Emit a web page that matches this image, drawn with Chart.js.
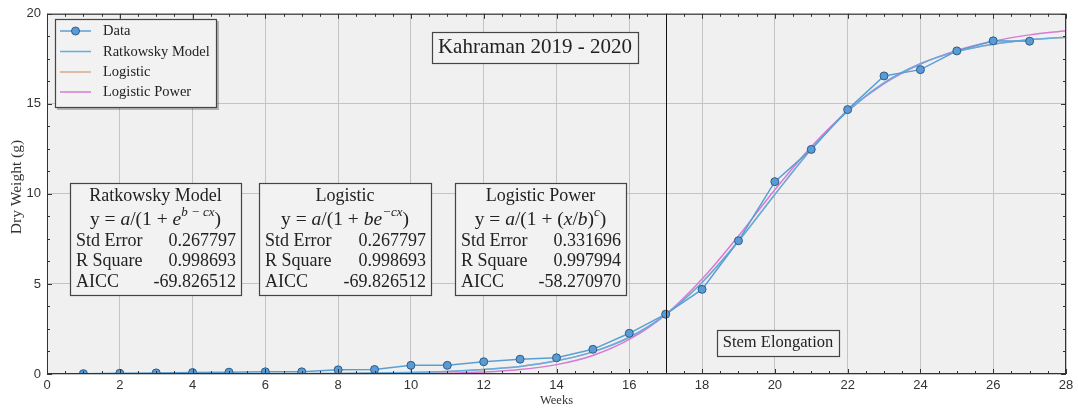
<!DOCTYPE html>
<html>
<head>
<meta charset="utf-8">
<script src="https://cdn.jsdelivr.net/npm/chart.js@4.4.1/dist/chart.umd.min.js"></script>
<style>
  body { margin: 0; background: #fff; }
  canvas { display: block; }
</style>
</head>
<body>
<canvas id="growthChart" width="1078" height="410"></canvas>
<script>
// measured dry weight per week
const weeks = [1, 2, 3, 4, 5, 6, 7, 8, 9, 10, 11, 12, 13, 14, 15, 16, 17, 18, 19, 20, 21, 22, 23, 24, 25, 26, 27];
const dryWeight = [0.02, 0.04, 0.06, 0.08, 0.1, 0.12, 0.12, 0.23, 0.25, 0.48, 0.48, 0.68, 0.82, 0.9, 1.37, 2.26, 3.32, 4.7, 7.4, 10.68, 12.47, 14.68, 16.55, 16.9, 17.94, 18.5, 18.48];

const curveWeeks = [0, 1, 2, 3, 4, 5, 6, 7, 8, 9, 10, 11, 12, 13, 14, 15, 16, 17, 18, 19, 20, 21, 22, 23, 24, 25, 26, 27, 28];
const ratkowsky = [0, 0, 0, 0, 0, 0.01, 0.01, 0.02, 0.03, 0.05, 0.08, 0.14, 0.25, 0.42, 0.73, 1.23, 2.04, 3.3, 5.08, 7.38, 9.97, 12.48, 14.59, 16.17, 17.23, 17.9, 18.31, 18.56, 18.7];
const logistic = [0, 0, 0, 0, 0, 0.01, 0.01, 0.02, 0.03, 0.05, 0.08, 0.14, 0.25, 0.42, 0.73, 1.23, 2.04, 3.3, 5.08, 7.38, 9.97, 12.48, 14.59, 16.17, 17.23, 17.9, 18.31, 18.56, 18.7];
const logisticPower = [0, 0, 0, 0, 0, 0, 0, 0, 0.003, 0.007, 0.016, 0.044, 0.11, 0.25, 0.52, 1.03, 1.92, 3.3, 5.27, 7.66, 10.23, 12.62, 14.6, 16.12, 17.21, 17.97, 18.48, 18.83, 19.06];

const xTicks = [0, 2, 4, 6, 8, 10, 12, 14, 16, 18, 20, 22, 24, 26, 28];
const yTicks = [0, 5, 10, 15, 20];
const stageWeek = 17;

const fitBoxes = [
  { title: 'Ratkowsky Model', stdErr: '0.267797', rsq: '0.998693', aicc: '-69.826512', x1: 70, x2: 241,
    formula: [['y = ', 'n'], ['a', 'i'], ['/(1 + ', 'n'], ['e', 'i'], ['b \u2212 cx', 's'], [')', 'n']] },
  { title: 'Logistic', stdErr: '0.267797', rsq: '0.998693', aicc: '-69.826512', x1: 259, x2: 431,
    formula: [['y = ', 'n'], ['a', 'i'], ['/(1 + ', 'n'], ['be', 'i'], ['\u2212cx', 's'], [')', 'n']] },
  { title: 'Logistic Power', stdErr: '0.331696', rsq: '0.997994', aicc: '-58.270970', x1: 455, x2: 626,
    formula: [['y = ', 'n'], ['a', 'i'], ['/(1 + (', 'n'], ['x', 'i'], ['/', 'n'], ['b', 'i'], [')', 'n'], ['c', 's'], [')', 'n']] }
];

const SERIF = '"Liberation Serif", "DejaVu Serif", serif';

function pts(xs, ys) {
  return xs.map((x, i) => ({ x: x, y: ys[i] }));
}

function boxRect(ctx, x, y, w, h) {
  ctx.fillStyle = '#f2f2f2';
  ctx.fillRect(x, y, w, h);
  ctx.strokeStyle = '#444';
  ctx.lineWidth = 1.2;
  ctx.strokeRect(x + 0.5, y + 0.5, w, h);
}

function drawRich(ctx, parts, cx, y, size) {
  const fontOf = (k) => k === 'i' ? 'italic ' + size + 'px ' + SERIF
    : k === 's' ? 'italic ' + Math.round(size * 0.68) + 'px ' + SERIF
    : size + 'px ' + SERIF;
  let total = 0;
  parts.forEach(p => { ctx.font = fontOf(p[1]); total += ctx.measureText(p[0]).width; });
  let x = cx - total / 2;
  ctx.textAlign = 'left';
  parts.forEach(p => {
    ctx.font = fontOf(p[1]);
    ctx.fillText(p[0], x, p[1] === 's' ? y - size * 0.4 : y);
    x += ctx.measureText(p[0]).width;
  });
}

const decorations = {
  id: 'decorations',
  beforeDraw(chart) {
    const { ctx, chartArea: a } = chart;
    ctx.save();
    ctx.fillStyle = '#f0f0f0';
    ctx.fillRect(a.left, a.top, a.right - a.left, a.bottom - a.top);
    ctx.restore();
  },
  afterDatasetsDraw(chart) {
    const { ctx, chartArea: a, scales } = chart;
    const xs = scales.x, ys = scales.y;
    ctx.save();

    // minor / major tick marks on all four sides
    ctx.strokeStyle = '#333';
    ctx.lineWidth = 1;
    ctx.beginPath();
    for (let v = 0; v <= 28.001; v += 0.5) {
      const px = Math.round(xs.getPixelForValue(v)) + 0.5;
      const len = (Math.abs(v % 2) < 0.01) ? 5 : 3;
      ctx.moveTo(px, a.bottom); ctx.lineTo(px, a.bottom - len);
      ctx.moveTo(px, a.top); ctx.lineTo(px, a.top + len);
    }
    for (let v = 0; v <= 20.001; v += 1.25) {
      const py = Math.round(ys.getPixelForValue(v)) + 0.5;
      const len = (Math.abs(v % 5) < 0.01) ? 5 : 3;
      ctx.moveTo(a.left, py); ctx.lineTo(a.left + len, py);
      ctx.moveTo(a.right, py); ctx.lineTo(a.right - len, py);
    }
    ctx.stroke();

    // stage line
    const sx = Math.round(xs.getPixelForValue(stageWeek)) + 0.5;
    ctx.strokeStyle = '#111';
    ctx.beginPath();
    ctx.moveTo(sx, a.top); ctx.lineTo(sx, a.bottom);
    ctx.stroke();

    // frame
    ctx.strokeStyle = '#333';
    ctx.strokeRect(a.left + 0.5, a.top + 0.5, a.right - a.left - 1, a.bottom - a.top - 1);

    ctx.fillStyle = '#222';
    ctx.textBaseline = 'middle';

    // y axis title
    ctx.save();
    ctx.translate(16.5, 187);
    ctx.rotate(-Math.PI / 2);
    ctx.fillStyle = '#333';
    ctx.font = '15.5px ' + SERIF;
    ctx.textAlign = 'center';
    ctx.fillText('Dry Weight (g)', 0, 0);
    ctx.restore();

    // title box
    boxRect(ctx, 432, 32, 206, 31);
    ctx.fillStyle = '#222';
    ctx.font = '21px ' + SERIF;
    ctx.textAlign = 'center';
    ctx.fillText('Kahraman 2019 - 2020', 535, 47.5);

    // stage label
    boxRect(ctx, 717, 330, 122, 26);
    ctx.fillStyle = '#222';
    ctx.font = '16.5px ' + SERIF;
    ctx.fillText('Stem Elongation', 778, 343);

    // fit statistics boxes
    fitBoxes.forEach(b => {
      boxRect(ctx, b.x1, 183, b.x2 - b.x1, 112);
      ctx.fillStyle = '#222';
      const cx = (b.x1 + b.x2) / 2;
      ctx.font = '18px ' + SERIF;
      ctx.textAlign = 'center';
      ctx.fillText(b.title, cx, 196);
      drawRich(ctx, b.formula, cx, 220, 19.5);
      const rows = [['Std Error', b.stdErr], ['R Square', b.rsq], ['AICC', b.aicc]];
      rows.forEach((r, i) => {
        const y = 241 + i * 20.5;
        ctx.font = '18px ' + SERIF;
        ctx.textAlign = 'left';
        ctx.fillText(r[0], b.x1 + 6, y);
        ctx.textAlign = 'right';
        ctx.fillText(r[1], b.x2 - 5, y);
      });
    });

    // legend
    ctx.fillStyle = 'rgba(0,0,0,0.25)';
    ctx.fillRect(57, 21, 162, 89);
    boxRect(ctx, 55, 19, 161, 88);
    const legendY = [31, 51.5, 72, 92];
    chart.data.datasets.forEach((ds, i) => {
      const y = legendY[i];
      ctx.strokeStyle = ds.borderColor;
      ctx.lineWidth = 1.5;
      ctx.beginPath();
      ctx.moveTo(60, y); ctx.lineTo(91, y);
      ctx.stroke();
      if (ds.pointRadius > 0) {
        ctx.beginPath();
        ctx.arc(75.5, y, 4, 0, Math.PI * 2);
        ctx.fillStyle = ds.pointBackgroundColor;
        ctx.fill();
        ctx.strokeStyle = ds.pointBorderColor;
        ctx.lineWidth = 1;
        ctx.stroke();
      }
      ctx.fillStyle = '#222';
      ctx.font = '14.5px ' + SERIF;
      ctx.textAlign = 'left';
      ctx.fillText(ds.label, 103, y + 0.5);
    });

    ctx.restore();
  }
};

new Chart(document.getElementById('growthChart'), {
  type: 'scatter',
  data: {
    datasets: [
      {
        label: 'Data',
        data: pts(weeks, dryWeight),
        showLine: true,
        borderColor: '#5a9fd4',
        borderWidth: 1.5,
        pointRadius: 4,
        pointBackgroundColor: '#5b9bd5',
        pointBorderColor: '#2c5d88',
        pointBorderWidth: 1,
        tension: 0,
        order: 0
      },
      {
        label: 'Ratkowsky Model',
        data: pts(curveWeeks, ratkowsky),
        showLine: true,
        borderColor: '#62ade4',
        borderWidth: 1.5,
        pointRadius: 0,
        cubicInterpolationMode: 'monotone',
        order: 1
      },
      {
        label: 'Logistic',
        data: pts(curveWeeks, logistic),
        showLine: true,
        borderColor: '#d4aa8c',
        borderWidth: 1.5,
        pointRadius: 0,
        cubicInterpolationMode: 'monotone',
        order: 3
      },
      {
        label: 'Logistic Power',
        data: pts(curveWeeks, logisticPower),
        showLine: true,
        borderColor: '#d77ad6',
        borderWidth: 1.5,
        pointRadius: 0,
        cubicInterpolationMode: 'monotone',
        order: 2
      }
    ]
  },
  options: {
    responsive: false,
    animation: false,
    layout: { padding: { top: 12, right: 12, left: 0, bottom: 0 } },
    plugins: { legend: { display: false }, tooltip: { enabled: false } },
    scales: {
      x: {
        type: 'linear',
        min: 0,
        max: 28,
        afterBuildTicks: (s) => { s.ticks = xTicks.map(v => ({ value: v })); },
        afterFit: (s) => { s.height = 36; },
        grid: { color: '#c4c4c4', drawTicks: false },
        border: { display: false },
        ticks: { color: '#333', padding: 4, font: { family: '"Liberation Sans", Arial, sans-serif', size: 13 } },
        title: { display: true, text: 'Weeks', color: '#333', padding: { top: 0, bottom: 2 }, font: { family: SERIF, size: 12.5 } }
      },
      y: {
        min: 0,
        max: 20,
        afterBuildTicks: (s) => { s.ticks = yTicks.map(v => ({ value: v })); },
        afterFit: (s) => { s.width = 47; },
        grid: { color: '#c4c4c4', drawTicks: false },
        border: { display: false },
        ticks: { color: '#333', padding: 6, font: { family: '"Liberation Sans", Arial, sans-serif', size: 13 } },
        title: { display: false }
      }
    }
  },
  plugins: [decorations]
});
</script>
</body>
</html>
